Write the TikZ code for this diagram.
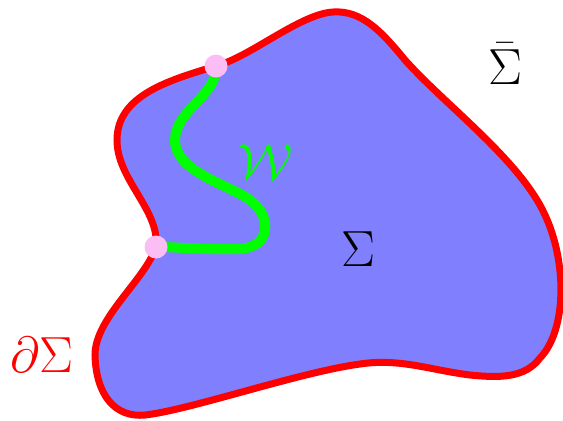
\documentclass[tikz,border=0pt]{standalone}
\usepackage{amsmath}
\definecolor{dotpink}{RGB}{250,190,245}
\definecolor{regionblue}{RGB}{128,128,255}
\tikzset{
  lbl/.style={font=\Huge, scale=2.05, inner sep=0pt},
  endpt/.style={circle, fill=dotpink, minimum size=23bp, inner sep=0pt},
  boundary/.style={draw=red, line width=7bp, fill=regionblue},
  wline/.style={draw=green, line width=10bp, line cap=round}
}
\begin{document}
\begin{tikzpicture}[x=1bp,y=-1bp]
\useasboundingbox (0,0) rectangle (563,420);
% endpoints
\coordinate (a) at (216,66);
\coordinate (b) at (156,247);
% region with boundary
\path[boundary] (333,12)
  .. controls (362,10) and (382,32) .. (405,60)
  .. controls (445,105) and (520,160) .. (545,215)
  .. controls (567,262) and (567,330) .. (540,358)
  .. controls (525,378) and (500,378) .. (470,375)
  .. controls (430,370) and (400,358) .. (360,364)
  .. controls (300,372) and (190,410) .. (145,415)
  .. controls (115,418) and (96,395) .. (95,355)
  .. controls (95,318) and (145,280) .. (b)
  .. controls (160,210) and (117,180) .. (117,140)
  .. controls (117,95) and (170,80) .. (a)
  .. controls (250,57) and (300,14) .. (333,12) -- cycle;
% curve W
\draw[wline] (a) .. controls (218,95) and (175,110) .. (175,140)
  .. controls (175,172) and (228,184) .. (250,200)
  .. controls (272,216) and (272,248) .. (238,249)
  .. controls (205,250) and (180,247) .. (b);
\node[endpt] (da) at (a) {};
\node[endpt] (db) at (b) {};
% labels
\node[lbl, text=green] (w) at (266,162) {$\mathcal{W}$};
\node[lbl] (s) at (358,249) {$\Sigma$};
\node[lbl] (sb) at (505,64) {$\bar{\Sigma}$};
\node[lbl, text=red] (ds) at (42,355) {$\partial\Sigma$};
\end{tikzpicture}
\end{document}
